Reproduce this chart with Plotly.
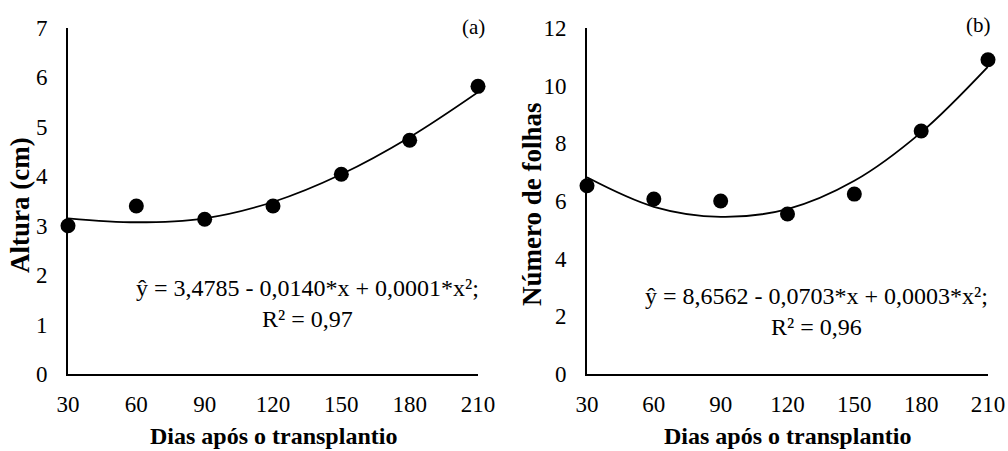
import plotly.graph_objects as go

# Data
days = [30, 60, 90, 120, 150, 180, 210]
altura = [3.00, 3.40, 3.13, 3.40, 4.04, 4.73, 5.82]
altura_fit = [3.15, 3.07, 3.15, 3.48, 4.04, 4.79, 5.70]
folhas = [6.53, 6.07, 6.00, 5.55, 6.24, 8.43, 10.90]
folhas_fit = [6.82, 5.80, 5.45, 5.72, 6.70, 8.38, 10.66]

x_ticks = [30, 60, 90, 120, 150, 180, 210]
y_ticks_a = [0, 1, 2, 3, 4, 5, 6, 7]
y_ticks_b = [0, 2, 4, 6, 8, 10, 12]

eq_a = "ŷ = 3,4785 - 0,0140*x + 0,0001*x²;<br>R² = 0,97"
eq_b = "ŷ = 8,6562 - 0,0703*x + 0,0003*x²;<br>R² = 0,96"
x_title = "<b>Dias após o transplantio</b>"
y_title_a = "<b>Altura (cm)</b>"
y_title_b = "<b>Número de folhas</b>"

W, H = 1008, 451
FONT = "Liberation Serif"
TICK = 23

# plot area in pixels
L, R, T, B = 68, 988, 28, 374
PW, PH = R - L, B - T

fig = go.Figure()

# Panel a
fig.add_trace(go.Scatter(x=days, y=altura_fit, mode="lines", line=dict(color="black", width=1.8, shape="spline"),
                         xaxis="x", yaxis="y", showlegend=False, hoverinfo="skip"))
fig.add_trace(go.Scatter(x=days, y=altura, mode="markers", marker=dict(color="black", size=15),
                         xaxis="x", yaxis="y", showlegend=False, cliponaxis=False))
# Panel b
fig.add_trace(go.Scatter(x=days, y=folhas_fit, mode="lines", line=dict(color="black", width=1.8, shape="spline"),
                         xaxis="x2", yaxis="y2", showlegend=False, hoverinfo="skip"))
fig.add_trace(go.Scatter(x=days, y=folhas, mode="markers", marker=dict(color="black", size=15),
                         xaxis="x2", yaxis="y2", showlegend=False, cliponaxis=False))

def px_x(p):
    return (p - L) / PW

def px_y(p):
    return (B - p) / PH

common_x = dict(range=[30, 210], tickvals=x_ticks, showline=True, linecolor="black", linewidth=2,
                showgrid=False, zeroline=False, ticks="", ticklabelstandoff=8, automargin=False,
                tickfont=dict(family=FONT, size=TICK, color="black"))
common_y = dict(showline=True, linecolor="black", linewidth=2, showgrid=False, zeroline=False, ticks="",
                ticklabelstandoff=14, automargin=False, tickfont=dict(family=FONT, size=TICK, color="black"))

def ann(text, x, y, size, angle=0):
    return dict(text=text, xref="paper", yref="paper", x=px_x(x), y=px_y(y), xanchor="center",
                yanchor="middle", showarrow=False, textangle=angle,
                font=dict(family=FONT, size=size, color="black"))

fig.update_layout(
    width=W, height=H,
    margin=dict(l=L, r=W - R, t=T, b=H - B, autoexpand=False),
    paper_bgcolor="white", plot_bgcolor="white",
    xaxis=dict(domain=[px_x(68), px_x(478)], anchor="y", **common_x),
    yaxis=dict(domain=[0, 1], anchor="x", range=[0, 7], tickvals=y_ticks_a, **common_y),
    xaxis2=dict(domain=[px_x(587), px_x(988)], anchor="y2", **common_x),
    yaxis2=dict(domain=[0, 1], anchor="x2", range=[0, 12], tickvals=y_ticks_b, **common_y),
    annotations=[
        ann(eq_a, 307, 303, 24),
        ann(eq_b, 816, 311, 24),
        ann("(a)", 473, 27, 21),
        ann("(b)", 978, 25, 21),
        ann(x_title, 273, 436, 24),
        ann(x_title, 787, 436, 24),
        ann(y_title_a, 20, 205, 27, -90),
        ann(y_title_b, 532, 204, 27, -90),
    ],
)

fig.write_html("out.html")
